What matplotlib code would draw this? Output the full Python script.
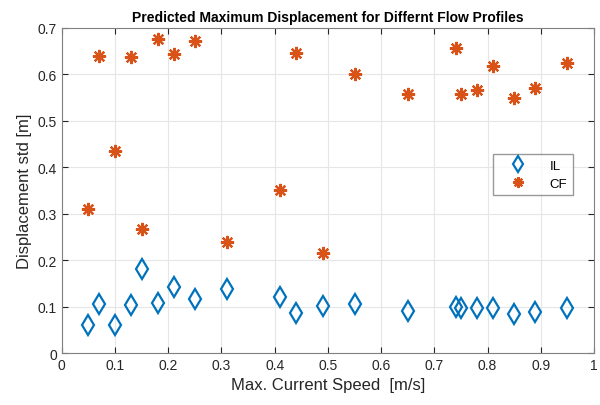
import matplotlib.pyplot as plt

plt.rcParams['font.family'] = ['Liberation Sans', 'DejaVu Sans']

speed = [0.05, 0.07, 0.10, 0.13, 0.15, 0.18, 0.21, 0.25, 0.31, 0.41, 0.44,
         0.49, 0.55, 0.65, 0.74, 0.75, 0.78, 0.81, 0.85, 0.89, 0.95]
il = [0.060, 0.106, 0.060, 0.103, 0.180, 0.108, 0.142, 0.117, 0.137, 0.120, 0.087,
      0.102, 0.105, 0.091, 0.100, 0.097, 0.097, 0.098, 0.085, 0.088, 0.097]
cf = [0.310, 0.640, 0.435, 0.637, 0.267, 0.677, 0.643, 0.671, 0.240, 0.350, 0.645,
      0.215, 0.600, 0.557, 0.657, 0.558, 0.567, 0.617, 0.549, 0.570, 0.624]

fig = plt.figure(figsize=(6, 4.06), dpi=100)
ax = fig.add_axes([0.103, 0.128, 0.887, 0.801])

ax.plot(speed, il, linestyle='none', marker='d', markersize=10.5, markerfacecolor='none',
        markeredgecolor='#0072BD', markeredgewidth=1.6, label='IL')
ax.plot(speed, cf, linestyle='none', marker=(8, 2, 0), markersize=9.5,
        markeredgecolor='#D95319', markeredgewidth=1.6, label='CF')

ax.set_xlim(0, 1)
ax.set_ylim(0, 0.7)
ax.set_xticks([i / 10 for i in range(11)])
ax.set_yticks([i / 10 for i in range(8)])
ax.set_xticklabels(['0', '0.1', '0.2', '0.3', '0.4', '0.5', '0.6', '0.7', '0.8', '0.9', '1'])
ax.set_yticklabels(['0', '0.1', '0.2', '0.3', '0.4', '0.5', '0.6', '0.7'])
ax.tick_params(direction='in', top=True, right=True, labelsize=10, colors='#262626', length=4)
ax.grid(True, color='#e6e6e6', linewidth=0.8)
ax.set_axisbelow(True)
for s in ax.spines.values():
    s.set_color('#808080')

ax.set_xlabel('Max. Current Speed  [m/s]', fontsize=12, color='#262626')
ax.set_ylabel('Displacement std [m]', fontsize=12, color='#262626')
ax.set_title('Predicted Maximum Displacement for Differnt Flow Profiles', fontsize=10,
             fontweight='bold', pad=5)

leg = ax.legend(loc='upper left', bbox_to_anchor=(0.81, 0.612), fancybox=False,
                edgecolor='#808080', fontsize=9.5, handlelength=3.0, handletextpad=0.9,
                borderpad=0.4, labelspacing=0.45, markerscale=0.8, borderaxespad=0)
leg.get_frame().set_linewidth(1.0)

fig.savefig('out.png')
